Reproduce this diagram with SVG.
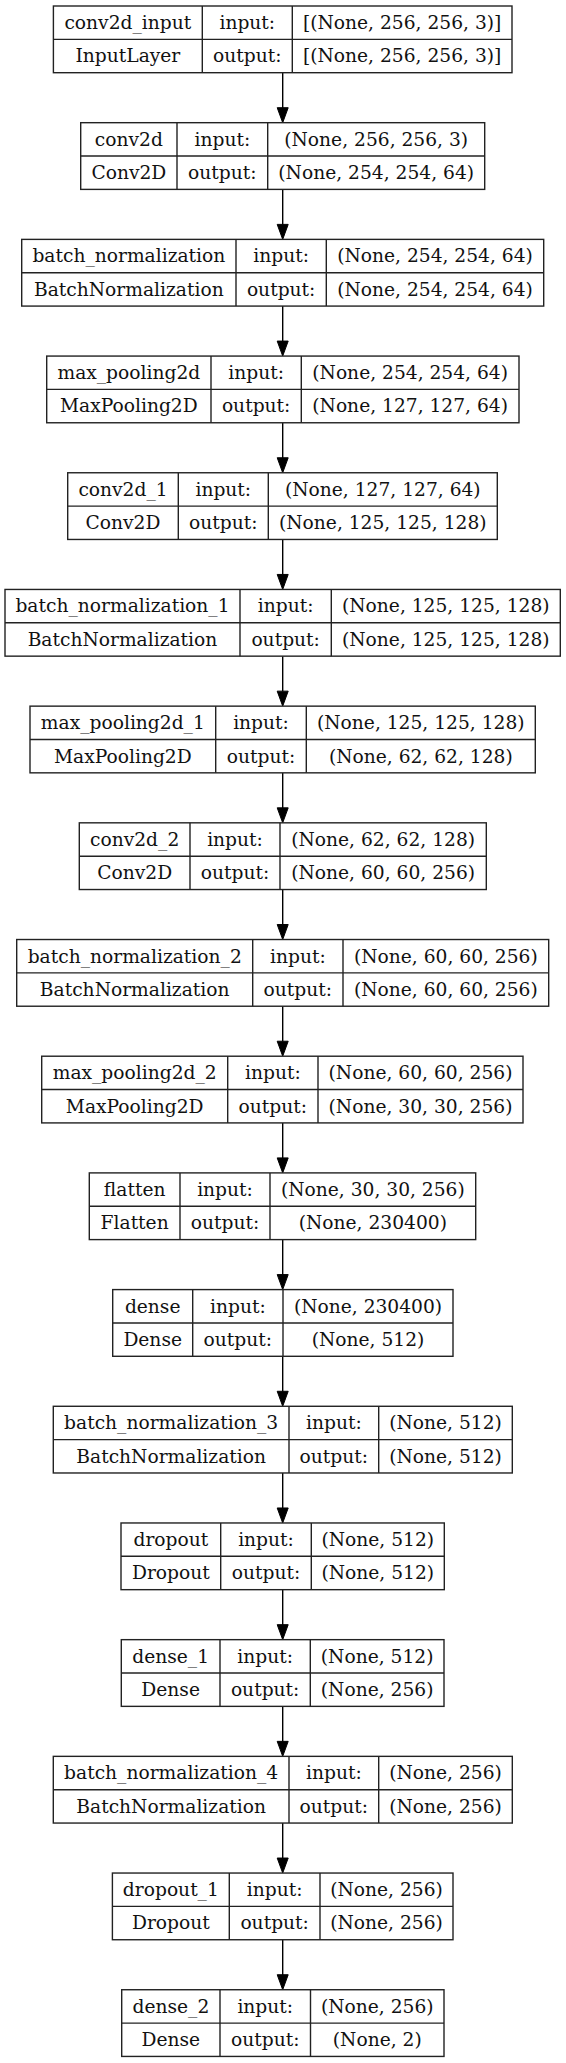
<svg xmlns="http://www.w3.org/2000/svg" width="566" height="2063" viewBox="0 0 566 2063">
<defs>
<style>
.bx{fill:#fff;stroke:#222;stroke-width:1.4}
.ln{stroke:#222;stroke-width:1.4}
.t{font-family:"DejaVu Serif","Liberation Serif",serif;font-size:18.67px;fill:#111;text-anchor:middle}
.edge{stroke:#000;stroke-width:1.4;fill:none}
.head{fill:#000;stroke:#000;stroke-width:1}
</style>
</defs>
<rect width="566" height="2063" fill="#fff"/>
<g id="connectors">
<line class="edge" x1="282.7" y1="72.7" x2="282.7" y2="108"/><polygon class="head" points="277.2,107.7 288.2,107.7 282.7,122.69"/>
<line class="edge" x1="282.7" y1="189.39" x2="282.7" y2="224.7"/><polygon class="head" points="277.2,224.38 288.2,224.38 282.7,239.38"/>
<line class="edge" x1="282.7" y1="306.08" x2="282.7" y2="341.4"/><polygon class="head" points="277.2,341.07 288.2,341.07 282.7,356.07"/>
<line class="edge" x1="282.7" y1="422.77" x2="282.7" y2="458.1"/><polygon class="head" points="277.2,457.76 288.2,457.76 282.7,472.76"/>
<line class="edge" x1="282.7" y1="539.46" x2="282.7" y2="574.8"/><polygon class="head" points="277.2,574.45 288.2,574.45 282.7,589.45"/>
<line class="edge" x1="282.7" y1="656.15" x2="282.7" y2="691.5"/><polygon class="head" points="277.2,691.14 288.2,691.14 282.7,706.14"/>
<line class="edge" x1="282.7" y1="772.84" x2="282.7" y2="808.2"/><polygon class="head" points="277.2,807.83 288.2,807.83 282.7,822.83"/>
<line class="edge" x1="282.7" y1="889.53" x2="282.7" y2="924.9"/><polygon class="head" points="277.2,924.52 288.2,924.52 282.7,939.52"/>
<line class="edge" x1="282.7" y1="1006.22" x2="282.7" y2="1041.6"/><polygon class="head" points="277.2,1041.21 288.2,1041.21 282.7,1056.21"/>
<line class="edge" x1="282.7" y1="1122.91" x2="282.7" y2="1158.3"/><polygon class="head" points="277.2,1157.9 288.2,1157.9 282.7,1172.9"/>
<line class="edge" x1="282.7" y1="1239.6" x2="282.7" y2="1275"/><polygon class="head" points="277.2,1274.59 288.2,1274.59 282.7,1289.59"/>
<line class="edge" x1="282.7" y1="1356.29" x2="282.7" y2="1391.7"/><polygon class="head" points="277.2,1391.28 288.2,1391.28 282.7,1406.28"/>
<line class="edge" x1="282.7" y1="1472.98" x2="282.7" y2="1508.4"/><polygon class="head" points="277.2,1507.97 288.2,1507.97 282.7,1522.97"/>
<line class="edge" x1="282.7" y1="1589.67" x2="282.7" y2="1625.1"/><polygon class="head" points="277.2,1624.66 288.2,1624.66 282.7,1639.66"/>
<line class="edge" x1="282.7" y1="1706.36" x2="282.7" y2="1741.8"/><polygon class="head" points="277.2,1741.35 288.2,1741.35 282.7,1756.35"/>
<line class="edge" x1="282.7" y1="1823.05" x2="282.7" y2="1858.4"/><polygon class="head" points="277.2,1858.04 288.2,1858.04 282.7,1873.04"/>
<line class="edge" x1="282.7" y1="1939.74" x2="282.7" y2="1975.1"/><polygon class="head" points="277.2,1974.73 288.2,1974.73 282.7,1989.73"/>
</g>

<g id="conv2d_input" transform="translate(0,6)">
<rect class="bx" x="53.4" y="0" width="458.6" height="66.7"/>
<line class="ln" x1="53.4" y1="33.35" x2="512" y2="33.35"/>
<line class="ln" x1="202.3" y1="0" x2="202.3" y2="66.7"/>
<line class="ln" x1="292.3" y1="0" x2="292.3" y2="66.7"/>
<text class="t" x="127.85" y="23">conv2d_input</text><text class="t" x="127.85" y="56.4">InputLayer</text>
<text class="t" x="247.3" y="23">input:</text><text class="t" x="247.3" y="56.4">output:</text>
<text class="t" x="402.15" y="23">[(None, 256, 256, 3)]</text><text class="t" x="402.15" y="56.4">[(None, 256, 256, 3)]</text>
</g>

<g id="conv2d" transform="translate(0,122.69)">
<rect class="bx" x="80.7" y="0" width="404" height="66.7"/>
<line class="ln" x1="80.7" y1="33.35" x2="484.7" y2="33.35"/>
<line class="ln" x1="177" y1="0" x2="177" y2="66.7"/>
<line class="ln" x1="267.7" y1="0" x2="267.7" y2="66.7"/>
<text class="t" x="128.85" y="23">conv2d</text><text class="t" x="128.85" y="56.4">Conv2D</text>
<text class="t" x="222.35" y="23">input:</text><text class="t" x="222.35" y="56.4">output:</text>
<text class="t" x="376.2" y="23">(None, 256, 256, 3)</text><text class="t" x="376.2" y="56.4">(None, 254, 254, 64)</text>
</g>

<g id="batch_normalization" transform="translate(0,239.38)">
<rect class="bx" x="21.7" y="0" width="522" height="66.7"/>
<line class="ln" x1="21.7" y1="33.35" x2="543.7" y2="33.35"/>
<line class="ln" x1="236" y1="0" x2="236" y2="66.7"/>
<line class="ln" x1="326.3" y1="0" x2="326.3" y2="66.7"/>
<text class="t" x="128.85" y="23">batch_normalization</text><text class="t" x="128.85" y="56.4">BatchNormalization</text>
<text class="t" x="281.15" y="23">input:</text><text class="t" x="281.15" y="56.4">output:</text>
<text class="t" x="435" y="23">(None, 254, 254, 64)</text><text class="t" x="435" y="56.4">(None, 254, 254, 64)</text>
</g>

<g id="max_pooling2d" transform="translate(0,356.07)">
<rect class="bx" x="46.7" y="0" width="472.3" height="66.7"/>
<line class="ln" x1="46.7" y1="33.35" x2="519" y2="33.35"/>
<line class="ln" x1="211" y1="0" x2="211" y2="66.7"/>
<line class="ln" x1="301.3" y1="0" x2="301.3" y2="66.7"/>
<text class="t" x="128.85" y="23">max_pooling2d</text><text class="t" x="128.85" y="56.4">MaxPooling2D</text>
<text class="t" x="256.15" y="23">input:</text><text class="t" x="256.15" y="56.4">output:</text>
<text class="t" x="410.15" y="23">(None, 254, 254, 64)</text><text class="t" x="410.15" y="56.4">(None, 127, 127, 64)</text>
</g>

<g id="conv2d_1" transform="translate(0,472.76)">
<rect class="bx" x="67.7" y="0" width="429.6" height="66.7"/>
<line class="ln" x1="67.7" y1="33.35" x2="497.3" y2="33.35"/>
<line class="ln" x1="178.3" y1="0" x2="178.3" y2="66.7"/>
<line class="ln" x1="268.3" y1="0" x2="268.3" y2="66.7"/>
<text class="t" x="123" y="23">conv2d_1</text><text class="t" x="123" y="56.4">Conv2D</text>
<text class="t" x="223.3" y="23">input:</text><text class="t" x="223.3" y="56.4">output:</text>
<text class="t" x="382.8" y="23">(None, 127, 127, 64)</text><text class="t" x="382.8" y="56.4">(None, 125, 125, 128)</text>
</g>

<g id="batch_normalization_1" transform="translate(0,589.45)">
<rect class="bx" x="5" y="0" width="555.3" height="66.7"/>
<line class="ln" x1="5" y1="33.35" x2="560.3" y2="33.35"/>
<line class="ln" x1="240" y1="0" x2="240" y2="66.7"/>
<line class="ln" x1="331.3" y1="0" x2="331.3" y2="66.7"/>
<text class="t" x="122.5" y="23">batch_normalization_1</text><text class="t" x="122.5" y="56.4">BatchNormalization</text>
<text class="t" x="285.65" y="23">input:</text><text class="t" x="285.65" y="56.4">output:</text>
<text class="t" x="445.8" y="23">(None, 125, 125, 128)</text><text class="t" x="445.8" y="56.4">(None, 125, 125, 128)</text>
</g>

<g id="max_pooling2d_1" transform="translate(0,706.14)">
<rect class="bx" x="30" y="0" width="505.3" height="66.7"/>
<line class="ln" x1="30" y1="33.35" x2="535.3" y2="33.35"/>
<line class="ln" x1="215.7" y1="0" x2="215.7" y2="66.7"/>
<line class="ln" x1="306.3" y1="0" x2="306.3" y2="66.7"/>
<text class="t" x="122.85" y="23">max_pooling2d_1</text><text class="t" x="122.85" y="56.4">MaxPooling2D</text>
<text class="t" x="261" y="23">input:</text><text class="t" x="261" y="56.4">output:</text>
<text class="t" x="420.8" y="23">(None, 125, 125, 128)</text><text class="t" x="420.8" y="56.4">(None, 62, 62, 128)</text>
</g>

<g id="conv2d_2" transform="translate(0,822.83)">
<rect class="bx" x="79.3" y="0" width="407" height="66.7"/>
<line class="ln" x1="79.3" y1="33.35" x2="486.3" y2="33.35"/>
<line class="ln" x1="190" y1="0" x2="190" y2="66.7"/>
<line class="ln" x1="280" y1="0" x2="280" y2="66.7"/>
<text class="t" x="134.65" y="23">conv2d_2</text><text class="t" x="134.65" y="56.4">Conv2D</text>
<text class="t" x="235" y="23">input:</text><text class="t" x="235" y="56.4">output:</text>
<text class="t" x="383.15" y="23">(None, 62, 62, 128)</text><text class="t" x="383.15" y="56.4">(None, 60, 60, 256)</text>
</g>

<g id="batch_normalization_2" transform="translate(0,939.52)">
<rect class="bx" x="16.7" y="0" width="532" height="66.7"/>
<line class="ln" x1="16.7" y1="33.35" x2="548.7" y2="33.35"/>
<line class="ln" x1="252.7" y1="0" x2="252.7" y2="66.7"/>
<line class="ln" x1="343" y1="0" x2="343" y2="66.7"/>
<text class="t" x="134.7" y="23">batch_normalization_2</text><text class="t" x="134.7" y="56.4">BatchNormalization</text>
<text class="t" x="297.85" y="23">input:</text><text class="t" x="297.85" y="56.4">output:</text>
<text class="t" x="445.85" y="23">(None, 60, 60, 256)</text><text class="t" x="445.85" y="56.4">(None, 60, 60, 256)</text>
</g>

<g id="max_pooling2d_2" transform="translate(0,1056.21)">
<rect class="bx" x="41.7" y="0" width="481.3" height="66.7"/>
<line class="ln" x1="41.7" y1="33.35" x2="523" y2="33.35"/>
<line class="ln" x1="227.7" y1="0" x2="227.7" y2="66.7"/>
<line class="ln" x1="318" y1="0" x2="318" y2="66.7"/>
<text class="t" x="134.7" y="23">max_pooling2d_2</text><text class="t" x="134.7" y="56.4">MaxPooling2D</text>
<text class="t" x="272.85" y="23">input:</text><text class="t" x="272.85" y="56.4">output:</text>
<text class="t" x="420.5" y="23">(None, 60, 60, 256)</text><text class="t" x="420.5" y="56.4">(None, 30, 30, 256)</text>
</g>

<g id="flatten" transform="translate(0,1172.9)">
<rect class="bx" x="89.3" y="0" width="386.4" height="66.7"/>
<line class="ln" x1="89.3" y1="33.35" x2="475.7" y2="33.35"/>
<line class="ln" x1="180" y1="0" x2="180" y2="66.7"/>
<line class="ln" x1="270" y1="0" x2="270" y2="66.7"/>
<text class="t" x="134.65" y="23">flatten</text><text class="t" x="134.65" y="56.4">Flatten</text>
<text class="t" x="225" y="23">input:</text><text class="t" x="225" y="56.4">output:</text>
<text class="t" x="372.85" y="23">(None, 30, 30, 256)</text><text class="t" x="372.85" y="56.4">(None, 230400)</text>
</g>

<g id="dense" transform="translate(0,1289.59)">
<rect class="bx" x="112.7" y="0" width="340.3" height="66.7"/>
<line class="ln" x1="112.7" y1="33.35" x2="453" y2="33.35"/>
<line class="ln" x1="192.7" y1="0" x2="192.7" y2="66.7"/>
<line class="ln" x1="283" y1="0" x2="283" y2="66.7"/>
<text class="t" x="152.7" y="23">dense</text><text class="t" x="152.7" y="56.4">Dense</text>
<text class="t" x="237.85" y="23">input:</text><text class="t" x="237.85" y="56.4">output:</text>
<text class="t" x="368" y="23">(None, 230400)</text><text class="t" x="368" y="56.4">(None, 512)</text>
</g>

<g id="batch_normalization_3" transform="translate(0,1406.28)">
<rect class="bx" x="53.3" y="0" width="459" height="66.7"/>
<line class="ln" x1="53.3" y1="33.35" x2="512.3" y2="33.35"/>
<line class="ln" x1="289" y1="0" x2="289" y2="66.7"/>
<line class="ln" x1="378.7" y1="0" x2="378.7" y2="66.7"/>
<text class="t" x="171.15" y="23">batch_normalization_3</text><text class="t" x="171.15" y="56.4">BatchNormalization</text>
<text class="t" x="333.85" y="23">input:</text><text class="t" x="333.85" y="56.4">output:</text>
<text class="t" x="445.5" y="23">(None, 512)</text><text class="t" x="445.5" y="56.4">(None, 512)</text>
</g>

<g id="dropout" transform="translate(0,1522.97)">
<rect class="bx" x="121" y="0" width="323.3" height="66.7"/>
<line class="ln" x1="121" y1="33.35" x2="444.3" y2="33.35"/>
<line class="ln" x1="220.7" y1="0" x2="220.7" y2="66.7"/>
<line class="ln" x1="311.3" y1="0" x2="311.3" y2="66.7"/>
<text class="t" x="170.85" y="23">dropout</text><text class="t" x="170.85" y="56.4">Dropout</text>
<text class="t" x="266" y="23">input:</text><text class="t" x="266" y="56.4">output:</text>
<text class="t" x="377.8" y="23">(None, 512)</text><text class="t" x="377.8" y="56.4">(None, 512)</text>
</g>

<g id="dense_1" transform="translate(0,1639.66)">
<rect class="bx" x="121.3" y="0" width="322.7" height="66.7"/>
<line class="ln" x1="121.3" y1="33.35" x2="444" y2="33.35"/>
<line class="ln" x1="220" y1="0" x2="220" y2="66.7"/>
<line class="ln" x1="310.3" y1="0" x2="310.3" y2="66.7"/>
<text class="t" x="170.65" y="23">dense_1</text><text class="t" x="170.65" y="56.4">Dense</text>
<text class="t" x="265.15" y="23">input:</text><text class="t" x="265.15" y="56.4">output:</text>
<text class="t" x="377.15" y="23">(None, 512)</text><text class="t" x="377.15" y="56.4">(None, 256)</text>
</g>

<g id="batch_normalization_4" transform="translate(0,1756.35)">
<rect class="bx" x="53.3" y="0" width="459" height="66.7"/>
<line class="ln" x1="53.3" y1="33.35" x2="512.3" y2="33.35"/>
<line class="ln" x1="289" y1="0" x2="289" y2="66.7"/>
<line class="ln" x1="378.7" y1="0" x2="378.7" y2="66.7"/>
<text class="t" x="171.15" y="23">batch_normalization_4</text><text class="t" x="171.15" y="56.4">BatchNormalization</text>
<text class="t" x="333.85" y="23">input:</text><text class="t" x="333.85" y="56.4">output:</text>
<text class="t" x="445.5" y="23">(None, 256)</text><text class="t" x="445.5" y="56.4">(None, 256)</text>
</g>

<g id="dropout_1" transform="translate(0,1873.04)">
<rect class="bx" x="112.4" y="0" width="340.6" height="66.7"/>
<line class="ln" x1="112.4" y1="33.35" x2="453" y2="33.35"/>
<line class="ln" x1="229.3" y1="0" x2="229.3" y2="66.7"/>
<line class="ln" x1="320" y1="0" x2="320" y2="66.7"/>
<text class="t" x="170.85" y="23">dropout_1</text><text class="t" x="170.85" y="56.4">Dropout</text>
<text class="t" x="274.65" y="23">input:</text><text class="t" x="274.65" y="56.4">output:</text>
<text class="t" x="386.5" y="23">(None, 256)</text><text class="t" x="386.5" y="56.4">(None, 256)</text>
</g>

<g id="dense_2" transform="translate(0,1989.73)">
<rect class="bx" x="121.7" y="0" width="322.3" height="66.7"/>
<line class="ln" x1="121.7" y1="33.35" x2="444" y2="33.35"/>
<line class="ln" x1="220" y1="0" x2="220" y2="66.7"/>
<line class="ln" x1="310.5" y1="0" x2="310.5" y2="66.7"/>
<text class="t" x="170.85" y="23">dense_2</text><text class="t" x="170.85" y="56.4">Dense</text>
<text class="t" x="265.25" y="23">input:</text><text class="t" x="265.25" y="56.4">output:</text>
<text class="t" x="377.25" y="23">(None, 256)</text><text class="t" x="377.25" y="56.4">(None, 2)</text>
</g>
</svg>
